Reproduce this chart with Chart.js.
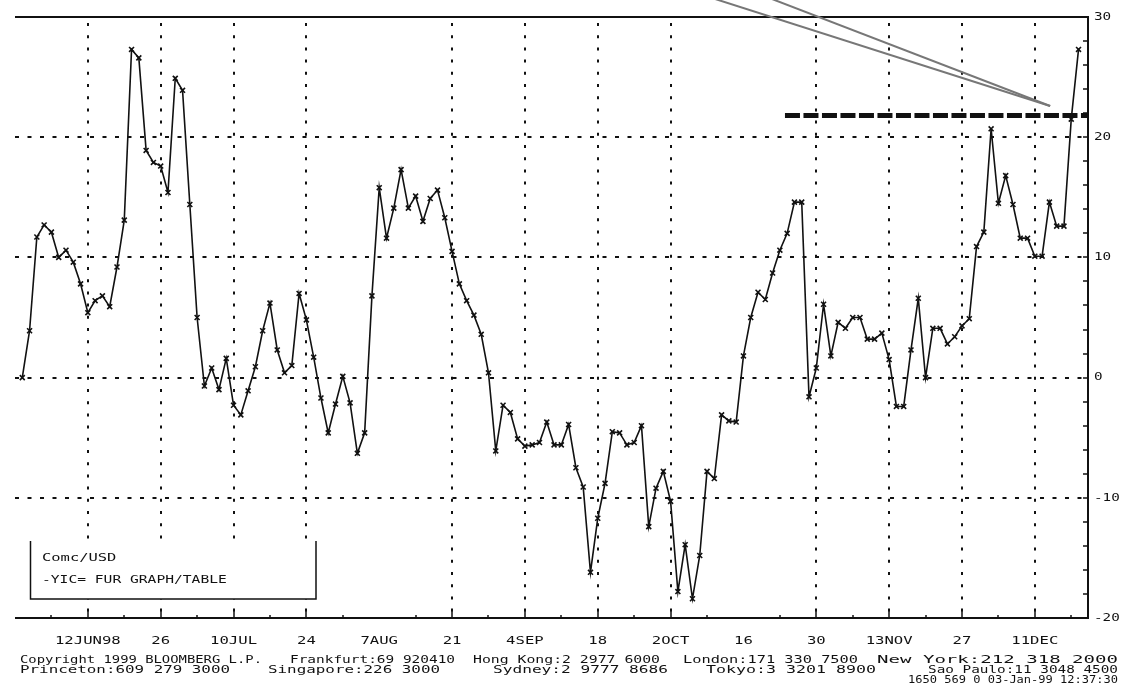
<!DOCTYPE html>
<html>
<head>
<meta charset="utf-8">
<script src="https://cdn.jsdelivr.net/npm/chart.js@4.4.0/dist/chart.umd.min.js"></script>
<style>
  html, body { margin: 0; padding: 0; background: #fff; }
  #wrap { width: 1121px; height: 698px; }
</style>
</head>
<body>
<div id="wrap"><canvas id="chart" width="1121" height="698"></canvas></div>
<script>
// daily closes, one per business day from 1 Jun 98
const closes = [
  0.0, 3.9, 11.7, 12.7, 12.1, 10.0, 10.6, 9.6, 7.8, 5.4,
  6.4, 6.8, 5.9, 9.2, 13.1, 27.3, 26.6, 18.9, 17.9, 17.6,
  15.4, 24.9, 23.9, 14.4, 5.0, -0.7, 0.8, -1.0, 1.6, -2.3,
  -3.1, -1.1, 0.9, 3.9, 6.2, 2.3, 0.4, 1.0, 7.0, 4.8,
  1.7, -1.7, -4.6, -2.2, 0.1, -2.1, -6.3, -4.6, 6.8, 15.8,
  11.6, 14.1, 17.3, 14.1, 15.1, 13.0, 14.9, 15.6, 13.3, 10.5,
  7.8, 6.4, 5.2, 3.6, 0.4, -6.1, -2.3, -2.9, -5.1, -5.7,
  -5.6, -5.4, -3.7, -5.6, -5.6, -3.9, -7.5, -9.1, -16.2, -11.7,
  -8.8, -4.5, -4.6, -5.6, -5.4, -4.0, -12.4, -9.2, -7.8, -10.3,
  -17.8, -13.9, -18.4, -14.8, -7.8, -8.4, -3.1, -3.6, -3.7, 1.8,
  5.0, 7.1, 6.5, 8.7, 10.6, 12.0, 14.6, 14.6, -1.6, 0.8,
  6.1, 1.8, 4.6, 4.1, 5.0, 5.0, 3.2, 3.2, 3.7, 1.5,
  -2.4, -2.4, 2.3, 6.6, 0.0, 4.1, 4.1, 2.8, 3.4, 4.3,
  4.9, 10.9, 12.1, 20.7, 14.5, 16.8, 14.4, 11.6, 11.6, 10.1,
  10.1, 14.6, 12.6, 12.6, 21.5, 27.3
];

const dateLabels = ['12JUN98', '26', '10JUL', '24', '7AUG', '21', '4SEP', '18', '2OCT', '16', '30', '13NOV', '27', '11DEC'];
const dateIdx = [9, 19, 29, 39, 49, 59, 69, 79, 89, 99, 109, 119, 129, 139];
const gridIdx = [9, 19, 29, 39, 59, 69, 79, 89, 109, 119, 129, 139];
const weekIdx = [4, 14, 24, 34, 44, 54, 64, 74, 84, 94, 104, 114, 124, 134, 144];

const yTicks = [30, 20, 10, 0, -10, -20];
const yGrid = [20, 10, 0, -10];

// horizontal marker line and the pointer into it
const markLevel = 21.8;
const markFrom = 104.7;
const pointerTip = [141.1, 22.6];
const pointerTails = [[95.1, 31.5], [102.9, 31.5]];

// footer text: [left, right, text]
const footer1 = [[20, 262, 'Copyright 1999 BLOOMBERG L.P.'], [290, 455, 'Frankfurt:69 920410'], [473, 660, 'Hong Kong:2 2977 6000'], [683, 858, 'London:171 330 7500'], [877, 1118, 'New York:212 318 2000']];
const footer2 = [[20, 230, 'Princeton:609 279 3000'], [268, 440, 'Singapore:226 3000'], [493, 668, 'Sydney:2 9777 8686'], [706, 876, 'Tokyo:3 3201 8900'], [928, 1118, 'Sao Paulo:11 3048 4500']];
const footer3 = [[908, 1118, '1650 569 0 03-Jan-99 12:37:30']];
const legendLines = ['Comc/USD', '-YIC= FUR GRAPH/TABLE'];

const X_MIN = -1, X_MAX = 146.3;

function wideText(ctx, str, x, y, align, size, charW) {
    ctx.save();
    ctx.font = size + 'px "DejaVu Sans Mono"';
    const w = ctx.measureText(str).width;
    const sx = charW * str.length / w;
    ctx.translate(x, y);
    ctx.scale(sx, 1);
    ctx.fillStyle = '#111';
    ctx.textBaseline = 'middle';
    ctx.textAlign = align;
    ctx.fillText(str, 0, 0);
    ctx.restore();
}

function fitText(ctx, seg, y) {
    wideText(ctx, seg[2], seg[0], y, 'left', 11, (seg[1] - seg[0]) / seg[2].length);
}

const frame = {
    id: 'frame',
    beforeDatasetsDraw(chart) {
        const ctx = chart.ctx;
        const a = chart.chartArea;
        const xs = chart.scales.x, ys = chart.scales.y;
        ctx.save();
        ctx.strokeStyle = '#111';
        // dotted grid
        ctx.lineWidth = 2;
        ctx.setLineDash([3, 9.2]);
        gridIdx.forEach(v => {
            const px = Math.round(xs.getPixelForValue(v));
            ctx.beginPath();
            ctx.moveTo(px, a.top + 6);
            ctx.lineTo(px, a.bottom);
            ctx.stroke();
        });
        ctx.setLineDash([4, 8.5]);
        yGrid.forEach(v => {
            const py = Math.round(ys.getPixelForValue(v));
            ctx.beginPath();
            ctx.moveTo(a.left, py);
            ctx.lineTo(a.right, py);
            ctx.stroke();
        });
        ctx.setLineDash([]);
        // legend box covers grid
        ctx.fillStyle = '#fff';
        ctx.fillRect(30, 541, 286, 58);
        ctx.lineWidth = 1.5;
        ctx.beginPath();
        ctx.moveTo(30.5, 541);
        ctx.lineTo(30.5, 599);
        ctx.lineTo(316, 599);
        ctx.lineTo(316, 541);
        ctx.stroke();
        // frame: top, bottom, right
        ctx.lineWidth = 2;
        ctx.beginPath();
        ctx.moveTo(a.left, a.top);
        ctx.lineTo(a.right, a.top);
        ctx.lineTo(a.right, a.bottom);
        ctx.lineTo(a.left, a.bottom);
        ctx.stroke();
        // inside ticks
        ctx.lineWidth = 1.5;
        gridIdx.forEach(v => {
            const px = Math.round(xs.getPixelForValue(v));
            ctx.beginPath();
            ctx.moveTo(px, a.bottom);
            ctx.lineTo(px, a.bottom - 9);
            ctx.stroke();
        });
        weekIdx.forEach(v => {
            const px = Math.round(xs.getPixelForValue(v));
            ctx.beginPath();
            ctx.moveTo(px, a.bottom);
            ctx.lineTo(px, a.bottom - 3);
            ctx.stroke();
        });
        for (let v = -18; v < 30; v += 2) {
            const py = Math.round(ys.getPixelForValue(v));
            ctx.beginPath();
            ctx.moveTo(a.right, py);
            ctx.lineTo(a.right - 5, py);
            ctx.stroke();
        }
        ctx.restore();
    },
    afterDraw(chart) {
        const ctx = chart.ctx;
        const a = chart.chartArea;
        const xs = chart.scales.x, ys = chart.scales.y;
        dateIdx.forEach((v, k) => {
            wideText(ctx, dateLabels[k], xs.getPixelForValue(v), 641, 'center', 11, 9.4);
        });
        yTicks.forEach(v => {
            wideText(ctx, String(v), a.right + 6, ys.getPixelForValue(v), 'left', 11, 8.6);
        });
        wideText(ctx, legendLines[0], 42, 558, 'left', 11, 9.3);
        wideText(ctx, legendLines[1], 42, 580, 'left', 11, 8.8);
        footer1.forEach(s => fitText(ctx, s, 660));
        footer2.forEach(s => fitText(ctx, s, 670));
        footer3.forEach(s => fitText(ctx, s, 680));
    }
};

new Chart(document.getElementById('chart'), {
    type: 'line',
    data: {
        datasets: [
            {
                data: closes.map((v, i) => ({x: i, y: v})),
                borderColor: '#111',
                borderWidth: 1.6,
                pointStyle: 'crossRot',
                pointRadius: 3.5,
                pointBorderWidth: 1.6,
                pointBorderColor: '#111',
                tension: 0
            },
            {
                data: [{x: markFrom, y: markLevel}, {x: X_MAX, y: markLevel}],
                borderColor: '#111',
                borderWidth: 5,
                borderDash: [15, 3.5],
                pointRadius: 0
            },
            {
                data: [{x: pointerTails[0][0], y: pointerTails[0][1]}, {x: pointerTip[0], y: pointerTip[1]}],
                borderColor: '#777',
                borderWidth: 2,
                pointRadius: 0,
                clip: false
            },
            {
                data: [{x: pointerTails[1][0], y: pointerTails[1][1]}, {x: pointerTip[0], y: pointerTip[1]}],
                borderColor: '#777',
                borderWidth: 2,
                pointRadius: 0,
                clip: false
            }
        ]
    },
    options: {
        responsive: false,
        animation: false,
        devicePixelRatio: 1,
        layout: { padding: { left: 15, right: 33, top: 17, bottom: 80 } },
        plugins: { legend: { display: false }, tooltip: { enabled: false } },
        scales: {
            x: { type: 'linear', min: X_MIN, max: X_MAX, display: false },
            y: { type: 'linear', min: -20, max: 30, display: false }
        }
    },
    plugins: [frame]
});
</script>
</body>
</html>
